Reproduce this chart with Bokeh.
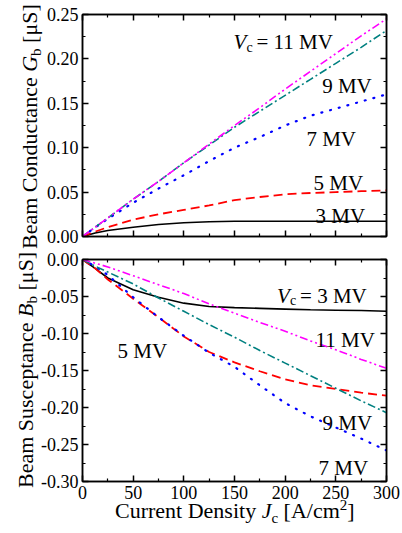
from bokeh.plotting import figure
from bokeh.layouts import column
from bokeh.models import (Label, LinearAxis, FixedTicker, NumeralTickFormatter, Range1d,
                          CustomLabelingPolicy, Div)
from bokeh.embed import file_html
from bokeh.resources import INLINE

# ---------------- data ----------------
j = [0, 12.5, 25, 50, 75, 100, 125, 150, 175, 200, 225, 250, 275, 300]

g_3mv = [0, 0.004, 0.0068, 0.0105, 0.0135, 0.0155, 0.0166, 0.0171, 0.0172, 0.0172, 0.0172, 0.0172, 0.0172, 0.0172]
g_5mv = [0, 0.0055, 0.0105, 0.019, 0.025, 0.030, 0.035, 0.041, 0.0445, 0.0475, 0.049, 0.050, 0.051, 0.052]
g_7mv = [0, 0.0102, 0.020, 0.038, 0.054, 0.069, 0.085, 0.100, 0.112, 0.125, 0.136, 0.144, 0.152, 0.160]
g_9mv = [0, 0.0105, 0.021, 0.042, 0.062, 0.083, 0.103, 0.123, 0.141, 0.159, 0.177, 0.195, 0.213, 0.232]
g_11mv = [0, 0.0105, 0.021, 0.042, 0.062, 0.083, 0.104, 0.125, 0.145, 0.166, 0.186, 0.206, 0.226, 0.245]

b_3mv = [0, -0.012, -0.025, -0.041, -0.051, -0.059, -0.0635, -0.065, -0.066, -0.067, -0.068, -0.0685, -0.069, -0.070]
b_5mv = [0, -0.012, -0.027, -0.053, -0.078, -0.104, -0.125, -0.139, -0.151, -0.162, -0.170, -0.175, -0.180, -0.184]
b_7mv = [0, -0.009, -0.021, -0.051, -0.078, -0.103, -0.126, -0.145, -0.170, -0.194, -0.212, -0.227, -0.242, -0.258]
b_9mv = [0, -0.009, -0.017, -0.033, -0.052, -0.070, -0.088, -0.105, -0.123, -0.140, -0.157, -0.174, -0.191, -0.207]
b_11mv = [0, -0.005, -0.010, -0.022, -0.034, -0.046, -0.060, -0.0725, -0.085, -0.097, -0.110, -0.122, -0.135, -0.147]

x_ticks = [0, 50, 100, 150, 200, 250, 300]
x_minor = [25, 75, 125, 175, 225, 275]
g_ticks = [0.0, 0.05, 0.10, 0.15, 0.20, 0.25]
g_minor = [0.025, 0.075, 0.125, 0.175, 0.225]
b_ticks = [0.0, -0.05, -0.10, -0.15, -0.20, -0.25, -0.30]
b_minor = [-0.025, -0.075, -0.125, -0.175, -0.225, -0.275]

series_labels = ["3 MV", "5 MV", "7 MV", "9 MV", "11 MV"]

FONT = "Liberation Serif"
ANN = "21px"
ASUB = "14px"
TICK = "18px"

styles = [
    dict(color="black", line_dash="solid", line_width=1.6),
    dict(color="#ff0000", line_dash="9 5", line_width=1.8),
    dict(color="#0000ff", line_dash="1 8", line_width=2.2, line_cap="round"),
    dict(color="#008080", line_dash="8 3 2 3", line_width=1.6),
    dict(color="#ff00ff", line_dash="8 3 2 3 2 3", line_width=1.6),
]

HIDE = "for (const i of indices) indices.unset(i)"


def cfg_axis(ax, ticks, minor, labels, fmt=None, standoff=4):
    ax.ticker = FixedTicker(ticks=ticks, minor_ticks=minor)
    ax.axis_line_color = "black"
    ax.axis_line_width = 1.5
    ax.major_tick_line_color = "black"
    ax.major_tick_line_width = 1.5
    ax.minor_tick_line_color = "black"
    ax.minor_tick_line_width = 1.2
    ax.major_tick_in = 6
    ax.major_tick_out = 0
    ax.minor_tick_in = 3
    ax.minor_tick_out = 0
    if fmt is not None:
        ax.formatter = NumeralTickFormatter(format=fmt)
    if labels:
        ax.major_label_text_font = FONT
        ax.major_label_text_font_size = TICK
        ax.major_label_text_color = "black"
        ax.major_label_standoff = standoff
    else:
        ax.major_label_text_font_size = "1px"
        ax.major_label_standoff = 0
        ax.major_label_policy = CustomLabelingPolicy(code=HIDE)


def make_fig(height, ylim, yt, ymt, show_x, mbt, mbb):
    p = figure(width=400, height=height, x_range=Range1d(0, 300), y_range=Range1d(*ylim),
               output_backend="svg", toolbar_location=None,
               min_border_left=82, min_border_right=14, min_border_top=mbt, min_border_bottom=mbb,
               outline_line_color="black", outline_line_width=1.5,
               background_fill_color="white", border_fill_color="white")
    p.grid.visible = False
    cfg_axis(p.xaxis[0], x_ticks, x_minor, show_x, standoff=4)
    cfg_axis(p.yaxis[0], yt, ymt, True, "0.00", standoff=4)
    top = LinearAxis()
    cfg_axis(top, x_ticks, x_minor, False)
    p.add_layout(top, "above")
    right = LinearAxis()
    cfg_axis(right, yt, ymt, False)
    p.add_layout(right, "right")
    return p


def add_text(p, x, y, text, size=ANN, style="normal", xo=0, yo=0):
    p.add_layout(Label(x=x, y=y, text=text, x_offset=xo, y_offset=yo,
                       text_font=FONT, text_font_size=size, text_font_style=style,
                       text_color="black", text_baseline="alphabetic", text_align="left"))


# ---------------- top: conductance ----------------
p1 = make_fig(251, (0, 0.25), g_ticks, g_minor, False, 14, 15)
for ys, st in zip([g_3mv, g_5mv, g_7mv, g_9mv, g_11mv], styles):
    p1.line(j, ys, **st)

add_text(p1, 149, 0.2185, "V", style="italic")
add_text(p1, 149, 0.2185, "c", size=ASUB, xo=13, yo=-5)
add_text(p1, 149, 0.2185, "= 11 MV", xo=23)
add_text(p1, 236.5, 0.169, series_labels[3])
add_text(p1, 221, 0.110, series_labels[2])
add_text(p1, 228, 0.0597, series_labels[1])
add_text(p1, 230, 0.0236, series_labels[0])

# ---------------- bottom: susceptance ----------------
p2 = make_fig(256, (-0.30, 0.0), b_ticks, b_minor, True, 8, 26)
for ys, st in zip([b_3mv, b_5mv, b_7mv, b_9mv, b_11mv], styles):
    p2.line(j, ys, **st)

add_text(p2, 192, -0.0488, "V", style="italic")
add_text(p2, 192, -0.0488, "c", size=ASUB, xo=13, yo=-5)
add_text(p2, 192, -0.0488, "= 3 MV", xo=23)
add_text(p2, 230, -0.1085, series_labels[4])
add_text(p2, 34.5, -0.1235, series_labels[1])
add_text(p2, 236.8, -0.2208, series_labels[3])
add_text(p2, 233, -0.2818, series_labels[2])

# ---------------- axis titles (real HTML text, rich formatting) ----------------
base = "position:absolute;font-size:22px;line-height:22px;white-space:nowrap;"
rot = "transform-origin:0 0;transform:rotate(-90deg);"
sub = '<span style="font-size:15px;position:relative;top:{d}px;">{t}</span>'

y_top = ('<span style="' + base + rot + 'left:19px;top:-258px;">'
         'Beam Conductance <i>G</i>' + sub.format(d=4, t="b") + ' [&mu;S]</span>')
y_bot = ('<span style="' + base + rot + 'left:14.5px;top:-19px;">'
         'Beam Susceptance <i>B</i>' + sub.format(d=4, t="b") + ' [&mu;S]</span>')
x_ttl = ('<span style="' + base + 'left:115px;top:-7px;">'
         'Current Density <i>J</i>' + sub.format(d=5, t="c") +
         ' [A/cm' + sub.format(d=-8, t="2") + ']</span>')

html = ('<div style="position:relative;width:400px;height:26px;'
        "font-family:'Liberation Serif';color:#000;\">" + y_top + y_bot + x_ttl + '</div>')
titles = Div(text=html, width=400, height=26, margin=(0, 0, 0, 0))

layout = column(p1, p2, titles)
open("out.html", "w").write(file_html(layout, INLINE))
